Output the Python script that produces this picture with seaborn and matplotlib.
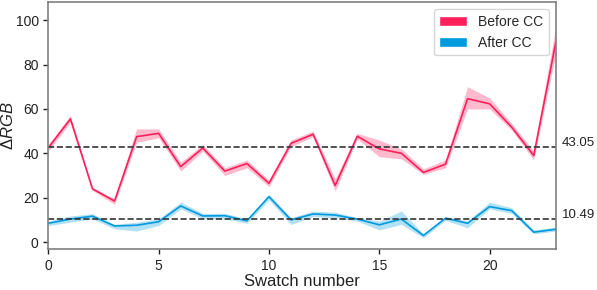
import numpy as np
import pandas as pd
import matplotlib
matplotlib.use("Agg")
import matplotlib.pyplot as plt
from matplotlib.patches import Patch
import seaborn as sns

# swatch index
swatch = list(range(24))

# Before CC: mean and band limits
before_mean = [42.5, 55.5, 24.0, 18.5, 47.5, 49.0, 34.0, 42.4, 32.0, 35.4, 26.5, 44.5,
               48.6, 25.5, 47.7, 42.0, 40.0, 31.4, 35.1, 64.6, 62.3, 51.8, 39.0, 90.0]
before_lo = [41.0, 54.0, 23.3, 17.0, 45.0, 47.0, 32.0, 41.0, 30.0, 33.5, 25.0, 43.0,
             47.5, 23.0, 46.5, 38.5, 37.5, 30.5, 33.5, 60.0, 60.0, 50.5, 37.0, 85.0]
before_hi = [44.0, 57.0, 24.7, 19.5, 51.0, 51.0, 36.0, 44.0, 33.5, 37.0, 28.0, 46.0,
             50.0, 28.5, 49.0, 46.0, 42.0, 33.0, 37.0, 70.0, 65.0, 53.5, 41.0, 97.0]

# After CC: mean and band limits
after_mean = [8.5, 10.4, 11.7, 7.3, 7.6, 9.2, 16.3, 11.8, 11.9, 9.6, 20.5, 10.0,
              12.7, 12.2, 10.4, 7.8, 10.4, 3.0, 10.8, 8.5, 16.0, 14.2, 4.5, 5.8]
after_lo = [7.5, 9.0, 10.5, 6.0, 5.0, 7.5, 15.0, 10.5, 10.5, 8.5, 19.0, 8.0,
            11.5, 11.0, 9.5, 5.5, 8.0, 2.0, 9.8, 6.5, 15.0, 13.0, 3.8, 5.0]
after_hi = [9.5, 11.8, 12.8, 8.0, 9.0, 10.5, 18.0, 13.0, 13.0, 10.5, 21.5, 11.0,
            14.0, 13.5, 11.0, 9.5, 14.0, 3.8, 11.5, 9.5, 18.0, 15.5, 5.5, 6.8]

# reported averages
before_avg = 43.05
after_avg = 10.49

red = "#FF1F5B"
blue = "#009ADE"

# long-form table: lo / mean / hi per swatch, median gives the mean, pi 100 gives band
rows = []
for name, m, lo, hi in [("Before CC", before_mean, before_lo, before_hi),
                        ("After CC", after_mean, after_lo, after_hi)]:
    for i, s in enumerate(swatch):
        for v in (lo[i], m[i], hi[i]):
            rows.append({"swatch": s, "value": v, "group": name})
df = pd.DataFrame(rows)

sns.set_style("ticks")
plt.rcParams["font.family"] = ["Liberation Sans", "DejaVu Sans"]
plt.rcParams["mathtext.fontset"] = "custom"
plt.rcParams["mathtext.rm"] = "Liberation Sans"
plt.rcParams["mathtext.it"] = "Liberation Sans:italic"

fig = plt.figure(figsize=(5.97, 2.90), dpi=100)
ax = fig.add_axes([0.081, 0.142, 0.850, 0.850])

sns.lineplot(data=df, x="swatch", y="value", hue="group",
             palette={"Before CC": red, "After CC": blue},
             estimator="median", errorbar=("pi", 100),
             err_kws={"alpha": 0.3, "linewidth": 0},
             linewidth=1.2, legend=False, ax=ax)

ax.axhline(before_avg, color="#333333", linestyle="--", linewidth=1.2)
ax.axhline(after_avg, color="#333333", linestyle="--", linewidth=1.2)

for val in (before_avg, after_avg):
    ax.annotate(f"{val:.2f}", xy=(1.0, val), xycoords=("axes fraction", "data"),
                xytext=(4.5, 2.5), textcoords="offset points",
                va="center", ha="left", fontsize=9.5, color="#222222")

ax.set_xlim(0, 23)
ax.set_ylim(-3, 108)
ax.set_xticks([0, 5, 10, 15, 20])
ax.set_yticks([0, 20, 40, 60, 80, 100])
ax.tick_params(labelsize=10, colors="#222222", length=3.5, width=1)
for sp in ax.spines.values():
    sp.set_visible(True)
    sp.set_color("#808080")
    sp.set_linewidth(1.2)

ax.set_xlabel("Swatch number", fontsize=12, color="#222222", labelpad=1)
ax.set_ylabel(r"$\Delta RGB$", fontsize=12, color="#222222")
ax.yaxis.set_label_coords(-0.064, 0.5)

handles = [Patch(facecolor=red, label="Before CC"),
           Patch(facecolor=blue, label="After CC")]
ax.legend(handles=handles, loc="upper right", fontsize=10, frameon=True,
          edgecolor="#cccccc", fancybox=True)

fig.savefig("out.png", dpi=100)
